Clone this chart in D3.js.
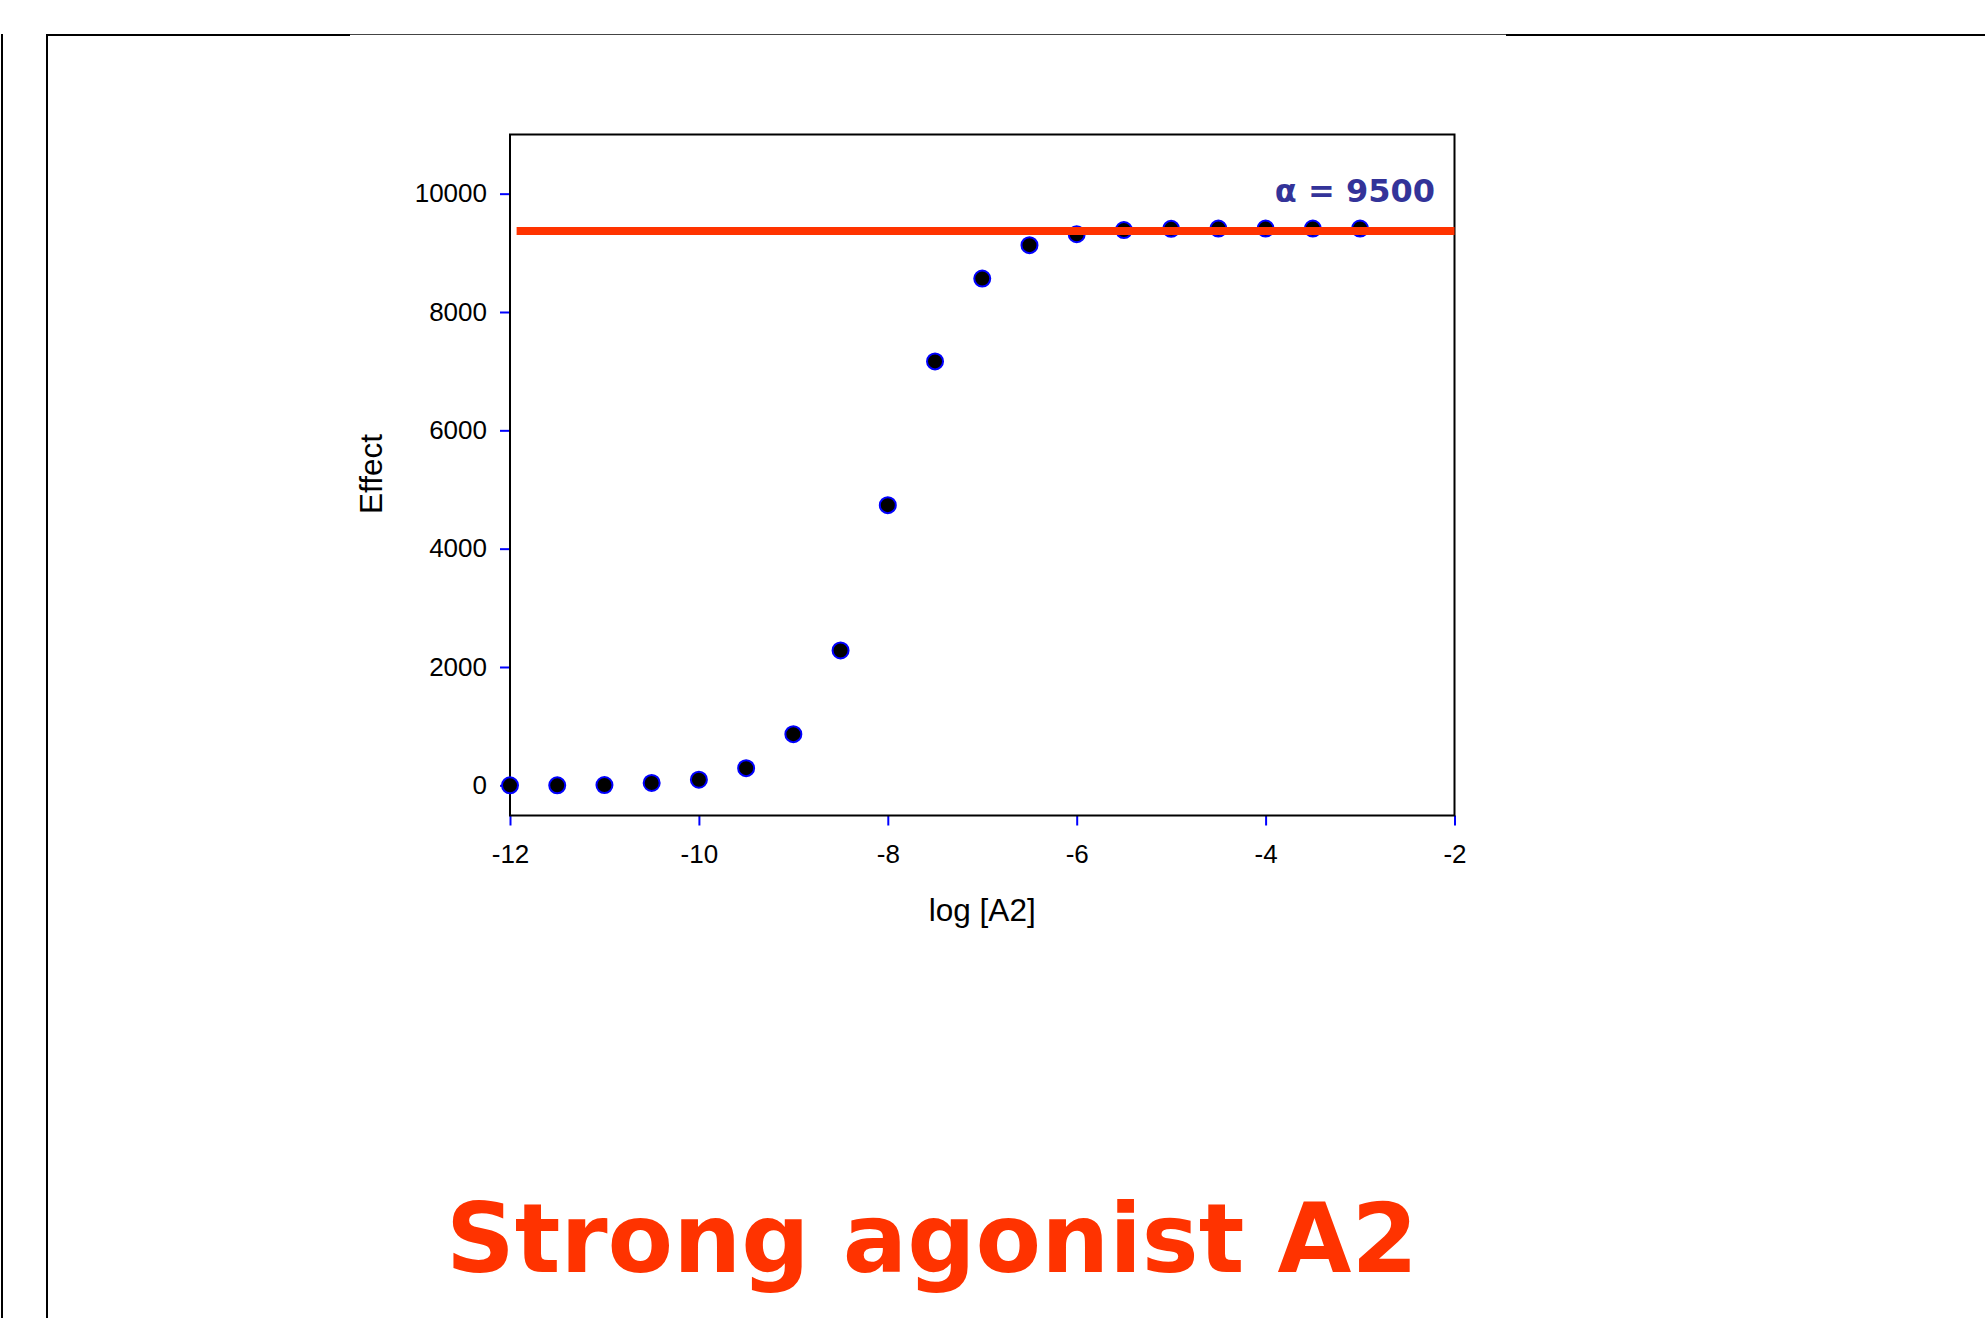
<!DOCTYPE html>
<html>
<head>
<meta charset="utf-8">
<script src="https://cdn.jsdelivr.net/npm/d3@7"></script>
<style>
  html, body { margin: 0; padding: 0; background: #fff; }
  svg { display: block; }
</style>
</head>
<body>
<svg id="chart" width="1985" height="1318"></svg>
<script>
// ---- data ----
const logConc = [-12, -11.5, -11, -10.5, -10, -9.5, -9, -8.5, -8, -7.5, -7, -6.5, -6, -5.5, -5, -4.5, -4, -3.5, -3];
const effect  = [0, 0, 5, 40, 95, 290, 865, 2280, 4735, 7165, 8565, 9130, 9315, 9385, 9405, 9410, 9410, 9410, 9410];
const plateauValue = 9367;
const plateauRange = [-11.93, -2];
const xTicks = [-12, -10, -8, -6, -4, -2];
const yTicks = [0, 2000, 4000, 6000, 8000, 10000];
const xDomain = [-12, -2];
const yDomain = [-510, 11000];
const alphaLabel = "α = 9500";
const xTitle = "log [A2]";
const yTitle = "Effect";
const mainTitle = "Strong agonist A2";

// ---- layout ----
const svg = d3.select("#chart");
const L = 510, R = 1454.5, T = 134.5, B = 815.5;

const x = d3.scaleLinear().domain(xDomain).range([L, R]);
const y = d3.scaleLinear().domain(yDomain).range([B, T]);

// slide frame lines
const frame = svg.append("g");
frame.append("line").attr("x1", 2).attr("x2", 2).attr("y1", 34).attr("y2", 1318)
  .attr("stroke", "#000").attr("stroke-width", 2);
frame.append("line").attr("x1", 47).attr("x2", 47).attr("y1", 34).attr("y2", 1318)
  .attr("stroke", "#000").attr("stroke-width", 2);
frame.append("line").attr("x1", 47).attr("x2", 350).attr("y1", 35).attr("y2", 35)
  .attr("stroke", "#000").attr("stroke-width", 2);
frame.append("line").attr("x1", 350).attr("x2", 1506).attr("y1", 34.5).attr("y2", 34.5)
  .attr("stroke", "#444").attr("stroke-width", 1);
frame.append("line").attr("x1", 1506).attr("x2", 1985).attr("y1", 35).attr("y2", 35)
  .attr("stroke", "#000").attr("stroke-width", 2);

// axes
const fontAx = "'Liberation Sans', Arial, sans-serif";
const fmt = d => String(d);
const xAxis = d3.axisBottom(x).tickValues(xTicks).tickSize(10).tickPadding(19).tickFormat(fmt);
const yAxis = d3.axisLeft(y).tickValues(yTicks).tickSize(10).tickPadding(13).tickFormat(fmt);

const gx = svg.append("g").attr("transform", `translate(0,${B})`).call(xAxis);
const gy = svg.append("g").attr("transform", `translate(${L},0)`).call(yAxis);
[gx, gy].forEach(g => {
  g.select(".domain").remove();
  g.selectAll(".tick line").attr("stroke", "#0000ff").attr("stroke-width", 2);
  g.selectAll(".tick text").attr("fill", "#000").style("font-family", fontAx).style("font-size", "26px");
});

// plot box
svg.append("rect").attr("x", L).attr("y", T).attr("width", R - L).attr("height", B - T)
  .attr("fill", "none").attr("stroke", "#000").attr("stroke-width", 2);

// points
const pts = logConc.map((c, i) => ({c, v: effect[i]}));
const ptsG = svg.append("g");
ptsG.selectAll("circle").data(pts).enter().append("circle")
  .attr("cx", d => x(d.c)).attr("cy", d => y(d.v)).attr("r", 8)
  .attr("fill", "#000").attr("stroke", "#0000ff").attr("stroke-width", 2);

// plateau line on top of points
svg.append("line")
  .attr("x1", x(plateauRange[0])).attr("x2", x(plateauRange[1]))
  .attr("y1", y(plateauValue)).attr("y2", y(plateauValue))
  .attr("stroke", "#ff3300").attr("stroke-width", 8);

// alpha label
svg.append("text").attr("x", 1435).attr("y", 202).attr("text-anchor", "end")
  .style("font-family", "'DejaVu Sans', Verdana, sans-serif").style("font-weight", "bold")
  .style("font-size", "32px").attr("fill", "#333399").text(alphaLabel);

// axis titles
svg.append("text").attr("x", (L + R) / 2).attr("y", 921).attr("text-anchor", "middle")
  .style("font-family", fontAx).style("font-size", "31.5px").attr("fill", "#000").text(xTitle);
svg.append("text").attr("transform", "translate(382,474) rotate(-90)").attr("text-anchor", "middle")
  .style("font-family", fontAx).style("font-size", "31.5px").attr("fill", "#000").text(yTitle);

// main title
svg.append("text").attr("x", 932).attr("y", 1272).attr("text-anchor", "middle")
  .style("font-family", "'DejaVu Sans', Verdana, sans-serif").style("font-weight", "bold")
  .style("font-size", "95.5px").attr("fill", "#ff3300").text(mainTitle);
</script>
</body>
</html>
